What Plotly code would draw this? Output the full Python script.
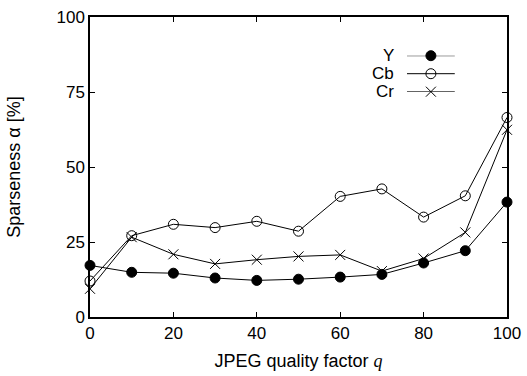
import plotly.graph_objects as go

quality = [0, 10, 20, 30, 40, 50, 60, 70, 80, 90, 100]
y_vals = [17.2, 14.9, 14.6, 13.0, 12.2, 12.6, 13.3, 14.2, 18.0, 22.1, 38.3]
cb_vals = [12.0, 27.1, 30.9, 29.8, 31.9, 28.6, 40.2, 42.7, 33.3, 40.4, 66.5]
cr_vals = [9.4, 26.6, 20.9, 17.7, 19.1, 20.2, 20.7, 15.3, 19.5, 28.2, 62.4]

series_names = ["Y", "Cb", "Cr"]
series_values = [y_vals, cb_vals, cr_vals]
symbols = ["circle", "circle-open", "x-thin-open"]
marker_sizes = [10, 10, 10]

x_ticks = [0, 20, 40, 60, 80, 100]
y_ticks = [0, 25, 50, 75, 100]

FONT = "Liberation Sans, Arial, sans-serif"
FS = 17
TFS = 18

fig = go.Figure()
for name, vals, sym, ms in zip(series_names, series_values, symbols, marker_sizes):
    fig.add_trace(go.Scatter(
        x=quality, y=vals, mode="lines+markers", name=name,
        line=dict(color="black", width=1),
        marker=dict(symbol=sym, size=ms, color="black",
                    line=dict(color="black", width=1)),
        showlegend=False, cliponaxis=False,
    ))

# custom legend (text left, sample right) on an auxiliary axis
leg_rows = [2, 1, 0]
for name, sym, ms, row in zip(series_names, symbols, marker_sizes, leg_rows):
    fig.add_trace(go.Scatter(
        x=[0, 1], y=[row, row], mode="lines",
        xaxis="x2", yaxis="y2",
        line=dict(color="black", width=1),
        showlegend=False, hoverinfo="skip", cliponaxis=False,
    ))
    fig.add_trace(go.Scatter(
        x=[0.5], y=[row], mode="markers",
        xaxis="x2", yaxis="y2",
        marker=dict(symbol=sym, size=ms, color="black",
                    line=dict(color="black", width=1)),
        showlegend=False, hoverinfo="skip", cliponaxis=False,
    ))
    fig.add_annotation(x=0.734, y=row, xref="paper", yref="y2", text=name,
                       showarrow=False, xanchor="right", yanchor="middle",
                       font=dict(family=FONT, size=FS, color="black"))

axis_common = dict(
    showline=True, linecolor="black", linewidth=1.5, mirror="ticks",
    ticks="inside", ticklen=5, tickwidth=1, tickcolor="black",
    showgrid=False, zeroline=False, automargin=False,
    ticklabeloverflow="allow",
    tickfont=dict(family=FONT, size=FS, color="black"),
)

fig.update_layout(
    width=527, height=376,
    margin=dict(l=90, r=20, t=17, b=59),
    paper_bgcolor="white", plot_bgcolor="white",
    font=dict(family=FONT, size=FS, color="black"),
    xaxis=dict(range=[0, 100], tickvals=x_ticks,
               title=dict(text="JPEG quality factor <span style='font-family:Liberation Serif'><i>q</i></span>",
                          standoff=12, font=dict(family=FONT, size=TFS)),
               **axis_common),
    yaxis=dict(range=[0, 100], tickvals=y_ticks,
               title=dict(text="Sparseness α [%]", standoff=31,
                          font=dict(family=FONT, size=TFS)),
               **axis_common),
    xaxis2=dict(domain=[0.760, 0.875], range=[0, 1], visible=False,
                anchor="y2", fixedrange=True),
    yaxis2=dict(domain=[0.751, 0.871], range=[0, 2], visible=False,
                anchor="x2", fixedrange=True),
    showlegend=False,
)

fig.write_html("out.html", config={"displayModeBar": False},
               post_script="document.body.style.margin='0';document.body.style.overflow='hidden';")
